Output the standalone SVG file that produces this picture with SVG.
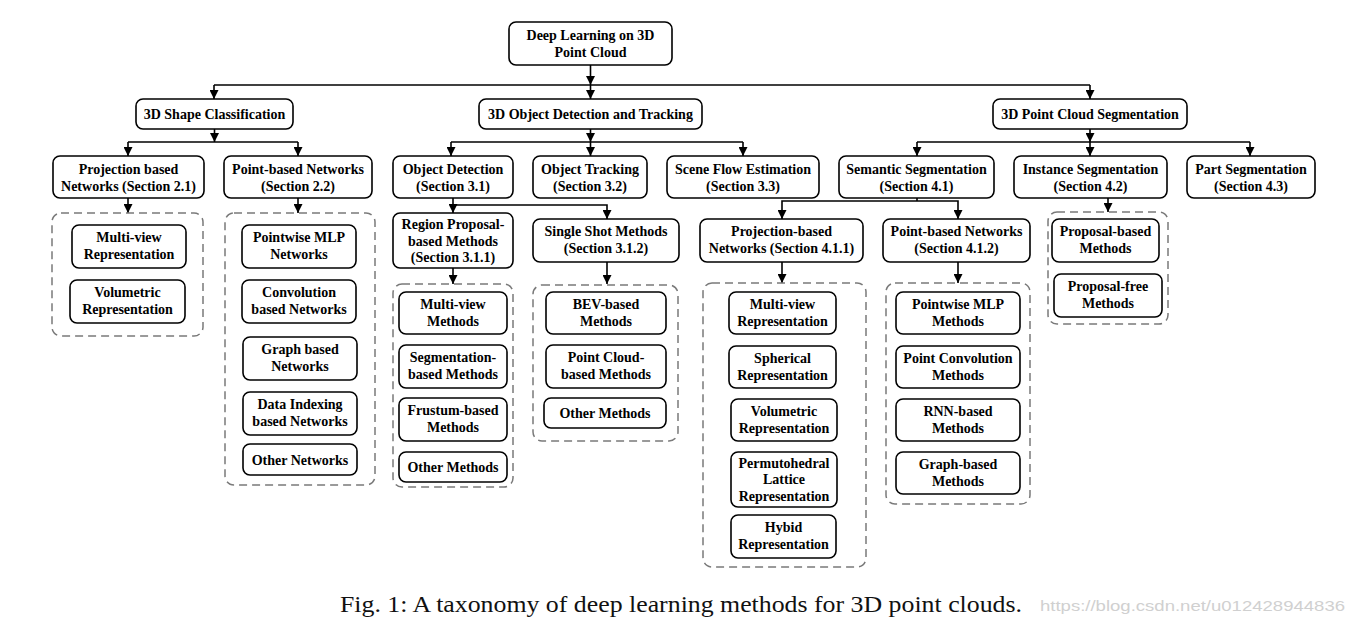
<svg xmlns="http://www.w3.org/2000/svg" width="1354" height="630" viewBox="0 0 1354 630">
<defs>
<marker id="ah" viewBox="0 0 10 10" refX="10" refY="5" markerWidth="9" markerHeight="9" markerUnits="userSpaceOnUse" orient="auto"><path d="M0,0 L10,5 L0,10 z" fill="#000"/></marker>
<style>
.n{fill:#fff;stroke:#000;stroke-width:1.6}
.d{fill:none;stroke:#7a7a7a;stroke-width:1.5;stroke-dasharray:8,5}
.t{font-family:"Liberation Serif","Times New Roman",serif;font-weight:bold;font-size:14px;fill:#000;text-anchor:middle}
.c{fill:none;stroke:#000;stroke-width:1.6}
.a{fill:none;stroke:#000;stroke-width:1.6;marker-end:url(#ah)}
</style>
</defs>
<rect width="1354" height="630" fill="#fff"/>

<g id="connectors">
<path class="a" d="M590.5,65 V85"/>
<path class="c" d="M214,85 H1090"/>
<path class="a" d="M214,85 V99"/>
<path class="a" d="M590.5,85 V99"/>
<path class="a" d="M1090,85 V99"/>

<path class="a" d="M214.5,129 V142"/>
<path class="c" d="M128,142 H298"/>
<path class="a" d="M128,142 V156"/>
<path class="a" d="M298,142 V156"/>

<path class="a" d="M590.5,129 V142"/>
<path class="c" d="M451,142 H743"/>
<path class="a" d="M451,142 V156"/>
<path class="a" d="M590.5,142 V156"/>
<path class="a" d="M743,142 V156"/>

<path class="a" d="M1090,129 V142"/>
<path class="c" d="M917,142 H1250"/>
<path class="a" d="M917,142 V156"/>
<path class="a" d="M1090,142 V156"/>
<path class="a" d="M1250,142 V156"/>

<path class="a" d="M128,198 V213"/>
<path class="a" d="M298,198 V213"/>

<path class="a" d="M453,198 V213"/>
<path class="a" d="M453,205 H607 V219"/>
<path class="a" d="M453,268 V284"/>
<path class="a" d="M607,262 V284"/>

<path class="c" d="M917,198 V201"/>
<path class="a" d="M917,201 H782 V219"/>
<path class="a" d="M917,201 H958 V219"/>
<path class="a" d="M782,262 V283"/>
<path class="a" d="M958,262 V283"/>

<path class="a" d="M1108,198 V212"/>
</g>

<g id="root"><rect class="n" x="509" y="22" width="163" height="43" rx="7"/><text class="t" x="590.5" y="40">Deep Learning on 3D</text><text class="t" x="590.5" y="57">Point Cloud</text></g>

<g id="shape-cls"><rect class="n" x="136" y="99" width="157" height="30" rx="7"/><text class="t" x="214.5" y="119">3D Shape Classification</text></g>
<g id="det-track"><rect class="n" x="479" y="99" width="223" height="30" rx="7"/><text class="t" x="590.5" y="119">3D Object Detection and Tracking</text></g>
<g id="seg"><rect class="n" x="993" y="99" width="194" height="30" rx="7"/><text class="t" x="1090" y="119">3D Point Cloud Segmentation</text></g>

<g id="proj21"><rect class="n" x="53" y="156" width="151" height="42" rx="7"/><text class="t" x="128.5" y="173.5">Projection based</text><text class="t" x="128.5" y="190.5">Networks (Section 2.1)</text></g>
<g id="point22"><rect class="n" x="224" y="156" width="148" height="42" rx="7"/><text class="t" x="298" y="173.5">Point-based Networks</text><text class="t" x="298" y="190.5">(Section 2.2)</text></g>
<g id="objdet"><rect class="n" x="393" y="156" width="120" height="42" rx="7"/><text class="t" x="453" y="173.5">Object Detection</text><text class="t" x="453" y="190.5">(Section 3.1)</text></g>
<g id="objtrack"><rect class="n" x="533" y="156" width="114" height="42" rx="7"/><text class="t" x="590" y="173.5">Object Tracking</text><text class="t" x="590" y="190.5">(Section 3.2)</text></g>
<g id="sceneflow"><rect class="n" x="667" y="156" width="152" height="42" rx="7"/><text class="t" x="743" y="173.5">Scene Flow Estimation</text><text class="t" x="743" y="190.5">(Section 3.3)</text></g>
<g id="semseg"><rect class="n" x="839" y="156" width="155" height="42" rx="7"/><text class="t" x="916.5" y="173.5">Semantic Segmentation</text><text class="t" x="916.5" y="190.5">(Section 4.1)</text></g>
<g id="instseg"><rect class="n" x="1014" y="156" width="153" height="42" rx="7"/><text class="t" x="1090.5" y="173.5">Instance Segmentation</text><text class="t" x="1090.5" y="190.5">(Section 4.2)</text></g>
<g id="partseg"><rect class="n" x="1187" y="156" width="128" height="42" rx="7"/><text class="t" x="1251" y="173.5">Part Segmentation</text><text class="t" x="1251" y="190.5">(Section 4.3)</text></g>

<g id="grp-proj21"><rect class="d" x="52" y="213" width="151" height="123" rx="9"/></g>
<g id="mv-rep"><rect class="n" x="72" y="225" width="114" height="43" rx="7"/><text class="t" x="129" y="242">Multi-view</text><text class="t" x="129" y="259">Representation</text></g>
<g id="vol-rep"><rect class="n" x="70" y="280" width="115" height="43" rx="7"/><text class="t" x="127.5" y="297">Volumetric</text><text class="t" x="127.5" y="314">Representation</text></g>

<g id="grp-point22"><rect class="d" x="225" y="213" width="150" height="272" rx="9"/></g>
<g id="pw-mlp-net"><rect class="n" x="242" y="225" width="114" height="43" rx="7"/><text class="t" x="299" y="242">Pointwise MLP</text><text class="t" x="299" y="259">Networks</text></g>
<g id="conv-net"><rect class="n" x="242" y="280" width="114" height="43" rx="7"/><text class="t" x="299" y="297">Convolution</text><text class="t" x="299" y="314">based Networks</text></g>
<g id="graph-net"><rect class="n" x="243" y="337" width="114" height="43" rx="7"/><text class="t" x="300" y="354">Graph based</text><text class="t" x="300" y="371">Networks</text></g>
<g id="idx-net"><rect class="n" x="243" y="392" width="114" height="43" rx="7"/><text class="t" x="300" y="409">Data Indexing</text><text class="t" x="300" y="426">based Networks</text></g>
<g id="other-net"><rect class="n" x="243" y="444" width="114" height="31" rx="7"/><text class="t" x="300" y="464.5">Other Networks</text></g>

<g id="region"><rect class="n" x="393" y="213" width="120" height="55" rx="7"/><text class="t" x="453" y="229">Region Proposal-</text><text class="t" x="453" y="245.5">based Methods</text><text class="t" x="453" y="262">(Section 3.1.1)</text></g>
<g id="single"><rect class="n" x="533" y="219" width="146" height="43" rx="7"/><text class="t" x="606" y="236">Single Shot Methods</text><text class="t" x="606" y="253">(Section 3.1.2)</text></g>

<g id="grp-region"><rect class="d" x="393" y="284" width="120" height="203" rx="9"/></g>
<g id="mv-meth"><rect class="n" x="399" y="292" width="108" height="42" rx="7"/><text class="t" x="453" y="308.5">Multi-view</text><text class="t" x="453" y="325.5">Methods</text></g>
<g id="seg-meth"><rect class="n" x="399" y="345" width="108" height="43" rx="7"/><text class="t" x="453" y="362">Segmentation-</text><text class="t" x="453" y="379">based Methods</text></g>
<g id="frus-meth"><rect class="n" x="399" y="398" width="108" height="43" rx="7"/><text class="t" x="453" y="415">Frustum-based</text><text class="t" x="453" y="432">Methods</text></g>
<g id="other-meth1"><rect class="n" x="399" y="452" width="108" height="30" rx="7"/><text class="t" x="453" y="472">Other Methods</text></g>

<g id="grp-single"><rect class="d" x="533" y="285" width="145" height="156" rx="9"/></g>
<g id="bev"><rect class="n" x="546" y="292" width="120" height="42" rx="7"/><text class="t" x="606" y="308.5">BEV-based</text><text class="t" x="606" y="325.5">Methods</text></g>
<g id="pc-meth"><rect class="n" x="546" y="345" width="120" height="43" rx="7"/><text class="t" x="606" y="362">Point Cloud-</text><text class="t" x="606" y="379">based Methods</text></g>
<g id="other-meth2"><rect class="n" x="544" y="398" width="122" height="30" rx="7"/><text class="t" x="605" y="418">Other Methods</text></g>

<g id="proj411"><rect class="n" x="700" y="219" width="163" height="43" rx="7"/><text class="t" x="781.5" y="236">Projection-based</text><text class="t" x="781.5" y="253">Networks (Section 4.1.1)</text></g>
<g id="point412"><rect class="n" x="883" y="219" width="147" height="43" rx="7"/><text class="t" x="956.5" y="236">Point-based Networks</text><text class="t" x="956.5" y="253">(Section 4.1.2)</text></g>

<g id="grp-proj411"><rect class="d" x="703" y="283" width="163" height="284" rx="9"/></g>
<g id="mv-rep2"><rect class="n" x="729" y="292" width="107" height="42" rx="7"/><text class="t" x="782.5" y="308.5">Multi-view</text><text class="t" x="782.5" y="325.5">Representation</text></g>
<g id="sph-rep"><rect class="n" x="729" y="346" width="107" height="42" rx="7"/><text class="t" x="782.5" y="362.5">Spherical</text><text class="t" x="782.5" y="379.5">Representation</text></g>
<g id="vol-rep2"><rect class="n" x="731" y="399" width="106" height="42" rx="7"/><text class="t" x="784" y="415.5">Volumetric</text><text class="t" x="784" y="432.5">Representation</text></g>
<g id="perm"><rect class="n" x="731" y="452" width="106" height="55" rx="7"/><text class="t" x="784" y="468">Permutohedral</text><text class="t" x="784" y="484">Lattice</text><text class="t" x="784" y="500.5">Representation</text></g>
<g id="hybid"><rect class="n" x="731" y="515" width="105" height="43" rx="7"/><text class="t" x="783.5" y="532">Hybid</text><text class="t" x="783.5" y="549">Representation</text></g>

<g id="grp-point412"><rect class="d" x="886" y="283" width="144" height="221" rx="9"/></g>
<g id="pw-mlp-meth"><rect class="n" x="896" y="292" width="124" height="42" rx="7"/><text class="t" x="958" y="308.5">Pointwise MLP</text><text class="t" x="958" y="325.5">Methods</text></g>
<g id="pconv-meth"><rect class="n" x="896" y="346" width="124" height="42" rx="7"/><text class="t" x="958" y="362.5">Point Convolution</text><text class="t" x="958" y="379.5">Methods</text></g>
<g id="rnn-meth"><rect class="n" x="896" y="399" width="124" height="42" rx="7"/><text class="t" x="958" y="415.5">RNN-based</text><text class="t" x="958" y="432.5">Methods</text></g>
<g id="graph-meth"><rect class="n" x="896" y="452" width="124" height="42" rx="7"/><text class="t" x="958" y="468.5">Graph-based</text><text class="t" x="958" y="485.5">Methods</text></g>

<g id="grp-inst"><rect class="d" x="1048" y="212" width="120" height="112" rx="9"/></g>
<g id="prop-based"><rect class="n" x="1052" y="219" width="107" height="43" rx="7"/><text class="t" x="1105.5" y="236">Proposal-based</text><text class="t" x="1105.5" y="253">Methods</text></g>
<g id="prop-free"><rect class="n" x="1054" y="274" width="108" height="43" rx="7"/><text class="t" x="1108" y="291">Proposal-free</text><text class="t" x="1108" y="308">Methods</text></g>

<text x="340" y="612" font-family="Liberation Serif, serif" font-size="23" fill="#111" textLength="682" lengthAdjust="spacingAndGlyphs">Fig. 1: A taxonomy of deep learning methods for 3D point clouds.</text>
<text x="1040" y="611" font-family="Liberation Sans, sans-serif" font-size="15" fill="#d0d0d0" textLength="305" lengthAdjust="spacingAndGlyphs">https://blog.csdn.net/u012428944836</text>
</svg>
